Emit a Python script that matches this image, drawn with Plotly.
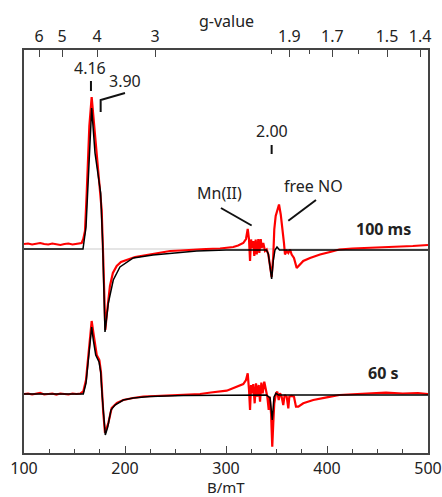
import plotly.graph_objects as go

# ---------------------------------------------------------------------------
# EPR spectra (X-band), experimental (red) and simulated (black)
# intensities in arbitrary units; each pair is shifted by its offset
# ---------------------------------------------------------------------------
FREQ_GHZ = 9.645           # microwave frequency used for the g-value axis
MT_PER_GHZ = 71.4477       # h / mu_B in mT per GHz

# 100 ms, simulation
sim_100ms_B = [100, 150, 157, 158.4, 161.4, 163.7, 165.3, 167.0, 170.3, 173.6,
               175.9, 177.9, 179.2, 180.2, 183.5, 188.4, 195.0, 208.2, 227.7,
               251.2, 271.0, 300, 330, 340, 341.9, 343.6, 345.2, 346.8, 348.5,
               350.5, 353, 380, 440, 500]
sim_100ms_I = [0, 0, 0, 0, 22, 72, 116, 141, 96, 69,
               56, 6, -44, -83, -54, -31, -18, -9, -6,
               -4, -2, -1, -1, -1, -5, -16, -30, -12, -1,
               2, -1, -1, -1, -1]

# 100 ms, experiment
exp_100ms_B = [100, 104, 108, 112, 116, 120, 124, 128, 132, 136, 140, 144, 148,
               152, 155, 157.1, 158.7, 160.4, 162.1, 164.7, 167.0, 169.6, 172.6,
               175.2, 176.9, 178.5, 179.9, 180.5, 182, 185.1, 188, 191.8, 196,
               201.7, 210, 221.5, 232, 244.6, 255, 267.6, 280, 294.1, 300, 307.2,
               312, 317.1, 319.8, 321.5, 322.8, 323.8, 324.8, 326.0, 327.0, 328.0,
               329.4, 330.4, 332.0, 333.0, 334.4, 335.3, 336.9, 338.6, 340.3,
               341.9, 343.6, 345.2, 346.8, 347.8, 349.2, 350.8, 352.5, 354.2,
               355.7, 357.4, 358.4, 360.1, 361.7, 363.4, 365.0, 367.3, 370.0,
               373.3, 376.5, 383.2, 393.1, 403.0, 412.2, 425, 440, 459.1, 470,
               485, 500]
exp_100ms_I = [5, 5.5, 4.5, 5, 6, 5, 4.5, 5.5, 5, 4, 5, 5.5, 4.5,
               5, 5.5, 6, 10, 18, 56, 123, 152, 123, 89,
               66, 39, -11, -71, -81, -65, -37, -24, -17, -13,
               -11, -8, -6, -4, -2, -1.5, -0.5, 0, 0.5, 1, 2,
               3.5, 6, 10, 20, 9.5, -12, 9.5, 1, 8, -7,
               9.5, -5.5, 10, -4, 10, 1, 6, -2, -0.5,
               -5.5, -17, -28, -7, 19.5, 33, 39.5, 44.5, 34.5,
               23, 6, -5.5, -2, -4, -0.5, -5.5, -9, -19,
               -15.5, -12, -9, -5.5, -3, -0.5, 0.5, 1, 1.5, 2,
               3, 4]

# 60 s, simulation
sim_60s_B = [100, 157, 158.7, 161.4, 163.7, 165.3, 167.0, 168.6, 171.0, 174.3,
             175.9, 177.5, 179.2, 180.5, 182.9, 186.1, 190.1, 198.3, 208.2,
             224.8, 257.7, 290.8, 313.9, 340, 343.6, 345.8, 347.5, 349.5, 352,
             400, 500]
sim_60s_I = [0, 0, 0, 11, 34, 57, 67, 54, 39, 32,
             22, -3, -26, -41, -33, -16, -11, -6, -4,
             -2.5, -1.5, -1, -1, -1, -4, -26, -3, 0.7, -1,
             -1, -1]

# 60 s, experiment
exp_60s_B = [100, 104, 108, 112, 116, 120, 124, 128, 132, 136, 140, 144, 148,
             152, 156, 158.7, 161.4, 163.7, 167.0, 169.3, 172.0, 174.6, 176.2,
             178.5, 180.2, 183.5, 186.8, 192, 198.3, 208, 218.1, 230, 241.3,
             258, 274.3, 285, 294.1, 300.7, 305, 310.6, 317.1, 319.8, 321.5,
             322.8, 323.8, 324.8, 326.0, 327.0, 328.4, 329.7, 331.0, 332.4,
             333.7, 335.0, 336.3, 337.9, 339.6, 340.9, 342.3, 343.3, 344.6,
             345.8, 346.8, 347.8, 349.5, 350.8, 352.2, 353.5, 355.1, 356.7,
             358.1, 360.1, 361.7, 362.7, 365.0, 367.3, 369.3, 371.6, 376.5,
             386.4, 399.7, 412.2, 430, 445, 458.4, 475, 490, 500]
exp_60s_I = [0, 0.5, -0.5, 0.5, 1, -0.5, 0, 0.5, -0.5, 0.5, 0, -0.5, 0.5,
             0, 0.5, 2.5, 14, 41, 73, 57, 39, 34, 22,
             -19, -39, -29, -14, -9, -6, -4, -2.5, -2, -1.5,
             -0.5, 0, 1.5, 2.3, 3.3, 5, 7.3, 10, 14, 20.7,
             4, -16, 9, 0.7, 10, -9.3, 10.7, -2.7, 9,
             -7.7, 11.3, 0.7, 12.3, 4, -2.7, -16, -2.7, -19.3,
             -52.7, -29.3, -9.3, 0.7, 2.3, -6, 0.7, -2.7, -11,
             -1, -2.7, -14.3, -2.7, -2, -2.7, -12.7, -12.7, -9.3,
             -6, -3.3, -1, 0, 1, 1.3, 0.5, 1, 0]

offset_100ms = 0
offset_60s = -145

g_labeled = [6, 5, 4, 3, 1.9, 1.7, 1.5, 1.4]
g_labels = ["6", "5", "4", "3", "1.9", "1.7", "1.5", "1.4"]
g_minor = [2.0, 1.8, 1.6]


def g_to_field(g):
    return MT_PER_GHZ * FREQ_GHZ / g


FONT = "Noto Sans, Open Sans, sans-serif"
TXT = "#222222"
AXIS = "#444444"

fig = go.Figure()

for B, I, off in [(exp_100ms_B, exp_100ms_I, offset_100ms),
                  (exp_60s_B, exp_60s_I, offset_60s)]:
    fig.add_trace(go.Scatter(x=B, y=[v + off for v in I], mode="lines",
                             line=dict(color="#ff0000", width=2.2),
                             showlegend=False, hoverinfo="skip"))
for B, I, off in [(sim_100ms_B, sim_100ms_I, offset_100ms),
                  (sim_60s_B, sim_60s_I, offset_60s)]:
    fig.add_trace(go.Scatter(x=B, y=[v + off for v in I], mode="lines",
                             line=dict(color="#000000", width=1.5),
                             showlegend=False, hoverinfo="skip"))

# carrier trace for the g-value axis on top
fig.add_trace(go.Scatter(x=[100, 500], y=[None, None], xaxis="x2",
                         mode="lines", showlegend=False, hoverinfo="skip"))

# zero line of the upper spectrum
fig.add_shape(type="line", xref="x", yref="y", x0=100, x1=500,
              y0=offset_100ms, y1=offset_100ms, layer="below",
              line=dict(color="#dcdcdc", width=1.5))

line_style = dict(color="#111111", width=2)
# g-value markers
fig.add_shape(type="line", xref="x", yref="y", x0=166.3, x1=166.3,
              y0=158, y1=168, line=line_style)
fig.add_shape(type="path", xref="x", yref="y",
              path="M 175.9 137 L 175.9 149 L 200 156", line=line_style)
fig.add_shape(type="line", xref="x", yref="y", x0=345.2, x1=345.2,
              y0=95, y1=104, line=line_style)
# pointer lines
fig.add_shape(type="line", xref="x", yref="y", x0=295.0, x1=325.4,
              y0=41, y1=23.5, line=line_style)
fig.add_shape(type="line", xref="x", yref="y", x0=389.1, x1=361.7,
              y0=49, y1=28.3, line=line_style)

annotations = [
    ("4.16", 165.3, 181, False),
    ("3.90", 200.0, 168, False),
    ("2.00", 345.2, 118, False),
    ("Mn(II)", 293.6, 56, False),
    ("free NO", 387.1, 63, False),
    ("100 ms", 456.2, 20, True),
    ("60 s", 456.4, -124, True),
]
for text, x, y, bold in annotations:
    fig.add_annotation(x=x, y=y, xref="x", yref="y", showarrow=False,
                       text=f"<b>{text}</b>" if bold else text,
                       font=dict(family=FONT, size=16, color=TXT),
                       xanchor="center", yanchor="middle")

# axis titles
fig.add_annotation(x=0.5, y=1.0, xref="paper", yref="paper", yshift=29,
                   text="g-value", showarrow=False, xanchor="center",
                   yanchor="middle", font=dict(family=FONT, size=16, color=TXT))
fig.add_annotation(x=0.5, y=0.0, xref="paper", yref="paper", yshift=-33.5,
                   text="B/mT", showarrow=False, xanchor="center",
                   yanchor="middle", borderpad=0,
                   font=dict(family=FONT, size=15, color=TXT))

fig.update_layout(
    width=442, height=497,
    margin=dict(l=24, r=14, t=50, b=44, autoexpand=False),
    plot_bgcolor="white", paper_bgcolor="white",
    font=dict(family=FONT, size=16, color=TXT),
    xaxis=dict(range=[100, 500], tickmode="linear", tick0=100, dtick=100,
               ticks="inside", ticklen=7, tickwidth=1.3, tickcolor=AXIS,
               minor=dict(dtick=25, tick0=100, ticks="inside", ticklen=4,
                          tickwidth=1.3, tickcolor=AXIS),
               showline=True, linecolor=AXIS, linewidth=1.5,
               showgrid=False, zeroline=False, automargin=False,
               tickfont=dict(size=16, color=TXT)),
    xaxis2=dict(range=[100, 500], overlaying="x", side="top",
                tickmode="array",
                tickvals=[g_to_field(g) for g in g_labeled],
                ticktext=g_labels,
                ticks="inside", ticklen=7, tickwidth=1.3, tickcolor=AXIS,
                minor=dict(tickmode="array",
                           tickvals=[g_to_field(g) for g in g_minor],
                           ticks="inside", ticklen=4, tickwidth=1.3,
                           tickcolor=AXIS),
                showline=True, linecolor=AXIS, linewidth=1.5,
                showgrid=False, zeroline=False, automargin=False,
                tickfont=dict(size=16, color=TXT)),
    yaxis=dict(range=[-204, 199], showticklabels=False, ticks="",
               showline=True, mirror=True, linecolor=AXIS, linewidth=1.5,
               showgrid=False, zeroline=False, automargin=False),
)

fig.write_html("out.html")
